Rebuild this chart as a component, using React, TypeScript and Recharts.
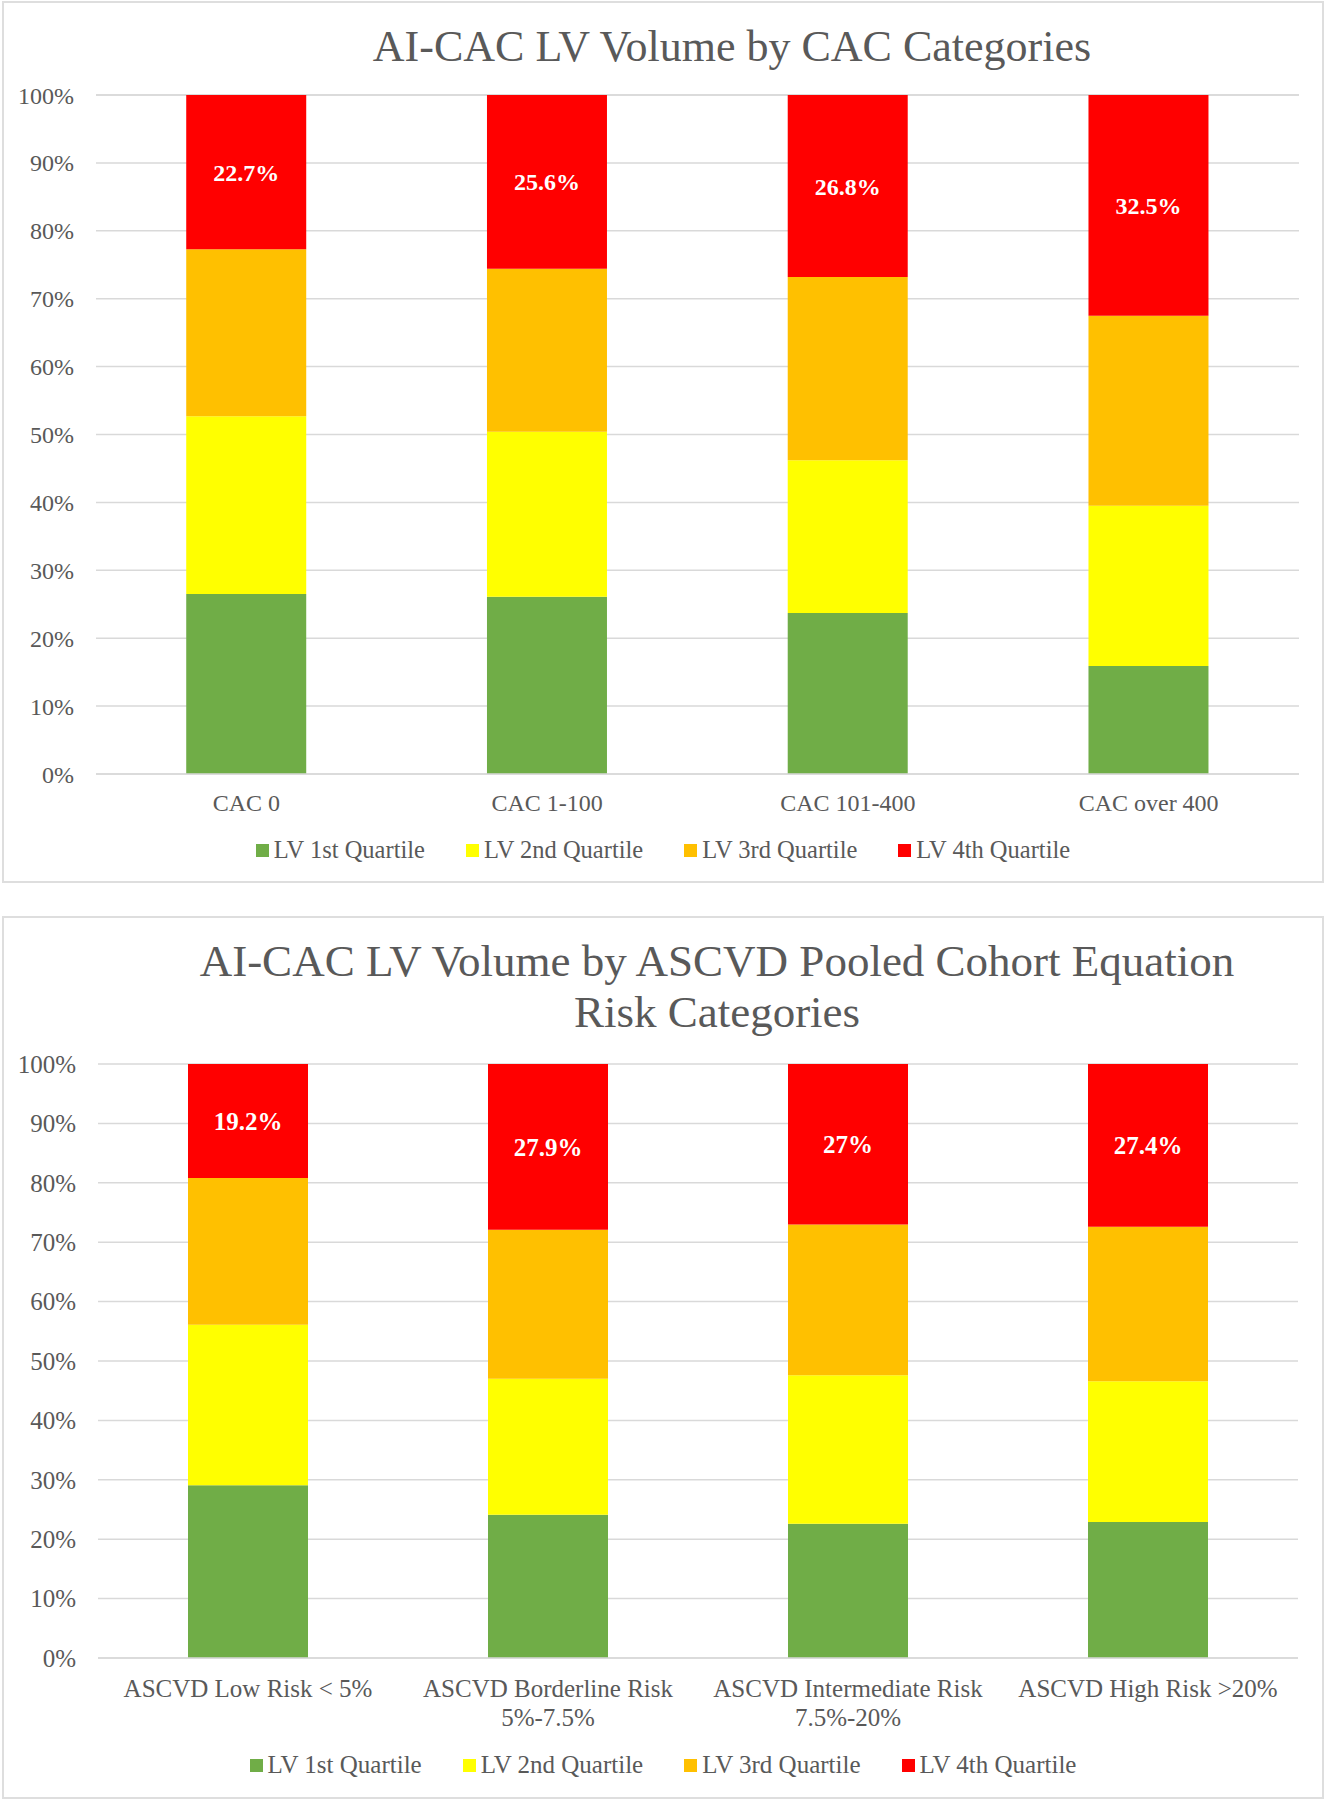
import React from 'react';
import { BarChart, Bar, XAxis, YAxis, CartesianGrid, Legend, LabelList } from 'recharts';

const FONT = '"Liberation Serif", "Times New Roman", serif';
const TEXT_GRAY = '#595959';
const GRID_GRAY = '#d9d9d9';

const SERIES_NAMES = ['LV 1st Quartile', 'LV 2nd Quartile', 'LV 3rd Quartile', 'LV 4th Quartile'];
const SERIES_COLORS = ['#70ad47', '#ffff00', '#ffc000', '#ff0000'];
const Y_TICKS = [0, 10, 20, 30, 40, 50, 60, 70, 80, 90, 100];

// chart 1: CAC categories
const CAC_CATEGORIES = ['CAC 0', 'CAC 1-100', 'CAC 101-400', 'CAC over 400'];
const CAC_Q1 = [26.5, 26.1, 23.7, 15.9];
const CAC_Q2 = [26.2, 24.3, 22.5, 23.6];
const CAC_Q3 = [24.6, 24.0, 27.0, 28.0];
const CAC_Q4 = [22.7, 25.6, 26.8, 32.5];

// chart 2: ASCVD pooled cohort equation risk categories
const ASCVD_CATEGORIES = [
  'ASCVD Low Risk < 5%',
  'ASCVD Borderline Risk\n5%-7.5%',
  'ASCVD Intermediate Risk\n7.5%-20%',
  'ASCVD High Risk >20%',
];
const ASCVD_Q1 = [29.1, 24.1, 22.6, 22.9];
const ASCVD_Q2 = [27.0, 22.9, 25.0, 23.7];
const ASCVD_Q3 = [24.7, 25.1, 25.4, 26.0];
const ASCVD_Q4 = [19.2, 27.9, 27.0, 27.4];

const buildRows = (cats: string[], q1: number[], q2: number[], q3: number[], q4: number[]) =>
  cats.map((name, i) => ({ name, q1: q1[i], q2: q2[i], q3: q3[i], q4: q4[i] }));

const CategoryTick = (props: any) => {
  const { x, y, payload, fontSize, firstOffset, lineGap } = props;
  const lines = String(payload.value).split('\n');
  return (
    <text x={x} y={y + firstOffset} textAnchor="middle" fill={TEXT_GRAY} fontSize={fontSize} fontFamily={FONT}>
      {lines.map((l, i) => (
        <tspan key={i} x={x} dy={i === 0 ? '0.35em' : lineGap}>{l}</tspan>
      ))}
    </text>
  );
};

const makeLegend = (fontSize: number) => (props: any) => {
  const items = props.payload || [];
  return (
    <div style={{ display: 'flex', justifyContent: 'center', alignItems: 'center', height: 30, fontFamily: FONT, fontSize, color: TEXT_GRAY }}>
      {items.map((it: any, i: number) => (
        <div key={i} style={{ display: 'flex', alignItems: 'center', marginLeft: i === 0 ? 0 : 41 }}>
          <span style={{ display: 'inline-block', width: 13, height: 13, background: it.color, marginRight: 5 }} />
          <span>{it.value}</span>
        </div>
      ))}
    </div>
  );
};

interface StackedProps {
  data: any[];
  width: number;
  height: number;
  margin: { top: number; right: number; bottom: number; left: number };
  yAxisWidth: number;
  xAxisHeight: number;
  fontSize: number;
  legendFontSize: number;
  tickOffset: number;
}

const StackedChart: React.FC<StackedProps> = ({ data, width, height, margin, yAxisWidth, xAxisHeight, fontSize, legendFontSize, tickOffset }) => {
  const keys = ['q1', 'q2', 'q3', 'q4'];
  return (
    <BarChart width={width} height={height} data={data} margin={margin} barCategoryGap="30%">
      <CartesianGrid vertical={false} stroke={GRID_GRAY} strokeWidth={1.5} />
      <XAxis
        dataKey="name"
        height={xAxisHeight}
        tickLine={false}
        tickSize={0}
        tickMargin={0}
        axisLine={{ stroke: GRID_GRAY, strokeWidth: 1.5 }}
        interval={0}
        tick={(p: any) => <CategoryTick {...p} fontSize={fontSize} firstOffset={tickOffset} lineGap={29} />}
      />
      <YAxis
        width={yAxisWidth}
        domain={[0, 100]}
        ticks={Y_TICKS}
        tickFormatter={(v: number) => `${v}%`}
        axisLine={false}
        tickLine={false}
        tickSize={0}
        tickMargin={22}
        tick={{ fill: TEXT_GRAY, fontSize, fontFamily: FONT }}
      />
      <Legend verticalAlign="bottom" content={makeLegend(legendFontSize)} wrapperStyle={{ left: 0, width }} />
      {keys.map((k, i) => (
        <Bar key={k} dataKey={k} name={SERIES_NAMES[i]} stackId="a" fill={SERIES_COLORS[i]} isAnimationActive={false}>
          {k === 'q4' && (
            <LabelList
              dataKey="q4"
              position="center"
              formatter={(v: any) => `${v}%`}
              fill="#ffffff"
              fontSize={fontSize}
              fontWeight="bold"
              fontFamily={FONT}
            />
          )}
        </Bar>
      ))}
    </BarChart>
  );
};

const boxStyle = (top: number, height: number): React.CSSProperties => ({
  position: 'absolute',
  left: 4,
  top,
  width: 1318,
  height,
  outline: '2px solid #dedede',
  background: '#fff',
});

export default function App() {
  const cacRows = buildRows(CAC_CATEGORIES, CAC_Q1, CAC_Q2, CAC_Q3, CAC_Q4);
  const ascvdRows = buildRows(ASCVD_CATEGORIES, ASCVD_Q1, ASCVD_Q2, ASCVD_Q3, ASCVD_Q4);

  return (
    <div style={{ position: 'absolute', left: 0, top: 0, width: 1325, height: 1800, background: '#fff' }}>
      <div style={boxStyle(3, 878)}>
        <div style={{ position: 'absolute', left: 728 - 600, width: 1200, top: 18, textAlign: 'center', fontFamily: FONT, fontSize: 44, lineHeight: '51px', color: TEXT_GRAY }}>
          AI-CAC LV Volume by CAC Categories
        </div>
        <div style={{ position: 'absolute', left: 0, top: 0 }}>
          <StackedChart
            data={cacRows}
            width={1318}
            height={878}
            margin={{ top: 92, right: 23, bottom: 16, left: 0 }}
            yAxisWidth={92}
            xAxisHeight={61}
            fontSize={24}
            legendFontSize={24.5}
            tickOffset={29}
          />
        </div>
      </div>

      <div style={boxStyle(918, 879)}>
        <div style={{ position: 'absolute', left: 713 - 600, width: 1200, top: 18, textAlign: 'center', fontFamily: FONT, fontSize: 45, lineHeight: '51px', color: TEXT_GRAY }}>
          AI-CAC LV Volume by ASCVD Pooled Cohort Equation
          <br />
          Risk Categories
        </div>
        <div style={{ position: 'absolute', left: 0, top: 0 }}>
          <StackedChart
            data={ascvdRows}
            width={1318}
            height={879}
            margin={{ top: 146, right: 24, bottom: 17, left: 0 }}
            yAxisWidth={94}
            xAxisHeight={92}
            fontSize={25}
            legendFontSize={25}
            tickOffset={30}
          />
        </div>
      </div>
    </div>
  );
}
